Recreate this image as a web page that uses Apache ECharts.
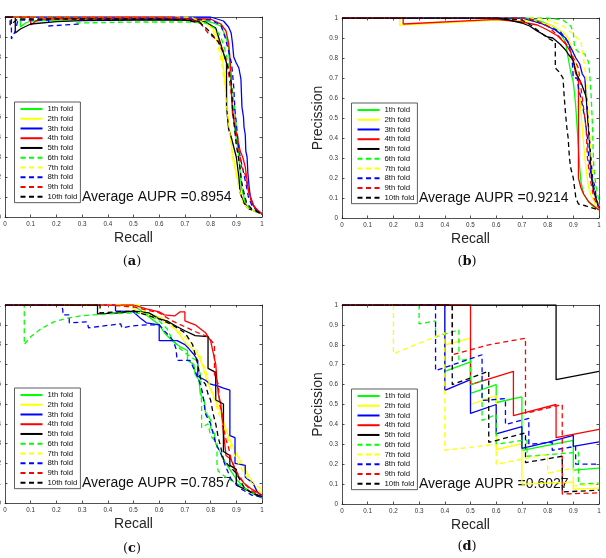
<!DOCTYPE html>
<html>
<head>
<meta charset="utf-8">
<script src="https://cdn.jsdelivr.net/npm/echarts@6/dist/echarts.min.js"></script>
<style>html,body{margin:0;padding:0;background:#fff}#c{width:606px;height:558px}</style>
</head>
<body>
<div id="c"></div>
<script>
// ---------- DATA ----------
const tickLabels = ['0','0.1','0.2','0.3','0.4','0.5','0.6','0.7','0.8','0.9','1'];
const foldNames = ['1th fold','2th fold','3th fold','4th fold','5th fold','6th fold','7th fold','8th fold','9th fold','10th fold'];
const auprValues = ['0.8954','0.9214','0.7857','0.6027'];
const panelLetters = ['a','b','c','d'];

// Panel (a)  [recall, precision]
const a1 = [[0,1],[0.06,1],[0.06,0.95],[0.08,0.97],[0.1,0.98],[0.2,0.985],[0.5,0.988],[0.75,0.985],[0.8,0.975],[0.84,0.955],[0.86,0.9],[0.87,0.85],[0.875,0.75],[0.882,0.6],[0.89,0.5],[0.895,0.43],[0.905,0.35],[0.91,0.3],[0.915,0.22],[0.92,0.15],[0.93,0.1],[0.94,0.05],[0.97,0.03],[1,0.015]];
const a2 = [[0,1],[0.7,1],[0.76,0.99],[0.8,0.96],[0.82,0.92],[0.835,0.87],[0.845,0.8],[0.855,0.7],[0.862,0.6],[0.868,0.5],[0.875,0.42],[0.882,0.35],[0.89,0.29],[0.9,0.22],[0.91,0.16],[0.92,0.1],[0.935,0.06],[0.96,0.04],[1,0.015]];
const a3 = [[0,1],[0.8,1],[0.85,0.98],[0.87,0.95],[0.88,0.92],[0.885,0.87],[0.89,0.86],[0.89,0.8],[0.9,0.77],[0.91,0.745],[0.915,0.74],[0.918,0.69],[0.92,0.62],[0.922,0.55],[0.928,0.5],[0.93,0.45],[0.935,0.41],[0.937,0.33],[0.942,0.3],[0.945,0.22],[0.95,0.15],[0.955,0.1],[0.965,0.06],[0.98,0.035],[1,0.015]];
const a4 = [[0,1],[0.1,1],[0.1,0.96],[0.12,0.98],[0.15,0.99],[0.5,0.995],[0.8,0.99],[0.84,0.965],[0.86,0.93],[0.87,0.87],[0.875,0.8],[0.88,0.7],[0.882,0.6],[0.885,0.52],[0.895,0.45],[0.905,0.4],[0.915,0.33],[0.925,0.3],[0.935,0.25],[0.94,0.2],[0.945,0.15],[0.955,0.1],[0.97,0.05],[1,0.015]];
const a5 = [[0,1],[0.04,1],[0.04,0.92],[0.06,0.94],[0.1,0.965],[0.2,0.977],[0.3,0.982],[0.5,0.985],[0.7,0.985],[0.78,0.975],[0.82,0.945],[0.85,0.82],[0.862,0.77],[0.862,0.55],[0.87,0.44],[0.875,0.42],[0.88,0.4],[0.89,0.35],[0.9,0.3],[0.905,0.25],[0.91,0.2],[0.915,0.12],[0.93,0.07],[0.95,0.04],[1,0.015]];
const a6 = [[0,1],[0.28,1],[0.28,0.97],[0.5,0.975],[0.72,0.975],[0.78,0.97],[0.82,0.94],[0.84,0.9],[0.86,0.82],[0.875,0.72],[0.882,0.65],[0.89,0.58],[0.895,0.52],[0.9,0.45],[0.905,0.38],[0.91,0.3],[0.915,0.24],[0.92,0.17],[0.93,0.1],[0.94,0.06],[0.97,0.03],[1,0.015]];
const a7 = [[0,1],[0.72,1],[0.76,0.98],[0.8,0.95],[0.82,0.9],[0.835,0.82],[0.845,0.75],[0.855,0.66],[0.862,0.56],[0.87,0.47],[0.878,0.38],[0.885,0.3],[0.895,0.24],[0.905,0.17],[0.915,0.12],[0.925,0.07],[0.95,0.04],[1,0.015]];
const a8 = [[0,1],[0.025,1],[0.025,0.89],[0.04,0.93],[0.05,0.985],[0.17,0.985],[0.17,0.955],[0.29,0.965],[0.29,0.985],[0.7,0.99],[0.8,0.985],[0.84,0.96],[0.856,0.9],[0.87,0.83],[0.882,0.765],[0.89,0.65],[0.895,0.53],[0.9,0.47],[0.908,0.36],[0.915,0.3],[0.927,0.23],[0.94,0.15],[0.947,0.1],[0.96,0.06],[0.98,0.03],[1,0.015]];
const a9 = [[0,1],[0.65,1],[0.72,0.985],[0.76,0.97],[0.79,0.92],[0.81,0.9],[0.83,0.88],[0.85,0.83],[0.862,0.78],[0.872,0.7],[0.882,0.6],[0.888,0.52],[0.895,0.46],[0.908,0.35],[0.915,0.3],[0.921,0.25],[0.934,0.215],[0.947,0.13],[0.96,0.07],[0.98,0.035],[1,0.015]];
const a10 = [[0,1],[0.02,1],[0.02,0.96],[0.035,0.975],[0.05,0.99],[0.6,0.99],[0.7,0.985],[0.76,0.97],[0.79,0.935],[0.83,0.875],[0.85,0.82],[0.87,0.74],[0.876,0.7],[0.882,0.66],[0.885,0.55],[0.89,0.48],[0.895,0.42],[0.9,0.36],[0.908,0.3],[0.914,0.25],[0.92,0.18],[0.93,0.12],[0.94,0.07],[0.96,0.04],[1,0.015]];

// Panel (b)
const b1 = [[0,1],[0.72,1],[0.78,0.98],[0.82,0.96],[0.85,0.92],[0.87,0.88],[0.88,0.8],[0.89,0.73],[0.9,0.68],[0.905,0.62],[0.91,0.55],[0.915,0.45],[0.92,0.35],[0.925,0.25],[0.93,0.18],[0.94,0.12],[0.955,0.09],[0.975,0.06],[1,0.04]];
const b2 = [[0,1],[0.225,1],[0.225,0.963],[0.25,0.966],[0.6,0.99],[0.75,0.985],[0.82,0.96],[0.86,0.93],[0.88,0.9],[0.9,0.83],[0.915,0.75],[0.925,0.62],[0.932,0.5],[0.938,0.4],[0.945,0.3],[0.952,0.22],[0.96,0.15],[0.97,0.11],[0.985,0.07],[1,0.05]];
const b3 = [[0,1],[0.7,1],[0.78,0.97],[0.83,0.94],[0.87,0.9],[0.895,0.84],[0.91,0.8],[0.925,0.77],[0.935,0.72],[0.945,0.7],[0.95,0.6],[0.955,0.52],[0.96,0.45],[0.965,0.35],[0.97,0.28],[0.975,0.2],[0.985,0.15],[0.99,0.09],[1,0.05]];
const b4 = [[0,1],[0.238,1],[0.238,0.97],[0.6,0.993],[0.7,0.98],[0.76,0.965],[0.8,0.94],[0.84,0.91],[0.87,0.87],[0.89,0.83],[0.9,0.78],[0.91,0.72],[0.92,0.7],[0.92,0.2],[0.93,0.15],[0.94,0.12],[0.96,0.08],[0.98,0.06],[1,0.04]];
const b5 = [[0,1],[0.6,1],[0.65,0.99],[0.7,0.975],[0.73,0.96],[0.757,0.937],[0.8,0.905],[0.82,0.9],[0.848,0.87],[0.87,0.84],[0.88,0.82],[0.9,0.787],[0.905,0.76],[0.913,0.72],[0.932,0.67],[0.952,0.6],[0.955,0.52],[0.958,0.47],[0.965,0.35],[0.97,0.22],[0.978,0.14],[0.99,0.09],[1,0.05]];
const b6 = [[0,1],[0.8,1],[0.86,0.99],[0.89,0.96],[0.9,0.93],[0.905,0.85],[0.92,0.83],[0.945,0.82],[0.95,0.8],[0.96,0.78],[0.965,0.7],[0.97,0.6],[0.975,0.45],[0.978,0.3],[0.982,0.22],[0.99,0.15],[1,0.08]];
const b7 = [[0,1],[0.76,1],[0.82,0.98],[0.86,0.96],[0.9,0.92],[0.93,0.88],[0.94,0.8],[0.95,0.7],[0.955,0.6],[0.96,0.5],[0.965,0.4],[0.97,0.3],[0.975,0.22],[0.985,0.15],[1,0.06]];
const b8 = [[0,1],[0.72,1],[0.8,0.96],[0.85,0.93],[0.88,0.88],[0.895,0.8],[0.9,0.7],[0.915,0.7],[0.92,0.65],[0.93,0.6],[0.945,0.5],[0.955,0.4],[0.96,0.3],[0.97,0.2],[0.98,0.15],[0.99,0.1],[1,0.05]];
const b9 = [[0,1],[0.7,1],[0.75,0.99],[0.8,0.96],[0.85,0.9],[0.88,0.86],[0.9,0.8],[0.92,0.75],[0.935,0.6],[0.945,0.5],[0.95,0.45],[0.955,0.3],[0.965,0.2],[0.98,0.1],[1,0.05]];
const b10 = [[0,1],[0.6,1],[0.7,0.99],[0.74,0.96],[0.78,0.92],[0.8,0.9],[0.83,0.88],[0.83,0.75],[0.845,0.73],[0.86,0.7],[0.865,0.6],[0.87,0.52],[0.875,0.45],[0.88,0.4],[0.885,0.3],[0.89,0.25],[0.9,0.2],[0.91,0.1],[0.92,0.07],[0.95,0.06],[1,0.04]];

// Panel (c)
const c1 = [[0,1],[0.5,1],[0.53,0.97],[0.56,0.94],[0.6,0.9],[0.62,0.86],[0.65,0.82],[0.68,0.79],[0.71,0.77],[0.71,0.72],[0.735,0.7],[0.74,0.65],[0.755,0.62],[0.76,0.55],[0.775,0.52],[0.78,0.46],[0.8,0.42],[0.8,0.38],[0.815,0.35],[0.82,0.3],[0.84,0.25],[0.85,0.22],[0.86,0.2],[0.88,0.16],[0.9,0.12],[0.93,0.08],[0.96,0.05],[1,0.025]];
const c2 = [[0,1],[0.52,1],[0.55,0.96],[0.6,0.94],[0.65,0.9],[0.68,0.85],[0.7,0.81],[0.72,0.79],[0.75,0.75],[0.77,0.69],[0.79,0.6],[0.82,0.52],[0.84,0.45],[0.855,0.39],[0.875,0.32],[0.9,0.25],[0.93,0.18],[0.96,0.11],[0.98,0.07],[1,0.05]];
const c3 = [[0,1],[0.43,1],[0.43,0.97],[0.5,0.965],[0.53,0.93],[0.55,0.91],[0.6,0.9],[0.6,0.82],[0.67,0.82],[0.7,0.8],[0.715,0.78],[0.735,0.75],[0.75,0.72],[0.75,0.64],[0.78,0.62],[0.8,0.6],[0.83,0.59],[0.85,0.58],[0.875,0.57],[0.875,0.34],[0.895,0.33],[0.895,0.2],[0.935,0.19],[0.935,0.13],[0.965,0.1],[0.98,0.06],[1,0.03]];
const c4 = [[0,1],[0.5,1],[0.55,0.98],[0.6,0.965],[0.62,0.95],[0.66,0.945],[0.68,0.965],[0.7,0.965],[0.7,0.92],[0.74,0.9],[0.76,0.88],[0.78,0.86],[0.8,0.82],[0.81,0.76],[0.82,0.7],[0.825,0.62],[0.83,0.55],[0.84,0.5],[0.845,0.42],[0.85,0.35],[0.855,0.3],[0.86,0.24],[0.88,0.22],[0.9,0.15],[0.93,0.1],[0.96,0.07],[1,0.04]];
const c5 = [[0,1],[0.36,1],[0.36,0.955],[0.45,0.96],[0.5,0.97],[0.56,0.96],[0.6,0.93],[0.63,0.92],[0.67,0.89],[0.7,0.87],[0.74,0.845],[0.79,0.84],[0.79,0.68],[0.82,0.66],[0.82,0.52],[0.85,0.5],[0.85,0.26],[0.875,0.24],[0.875,0.19],[0.9,0.17],[0.9,0.09],[0.95,0.06],[1,0.03]];
const c6 = [[0,1],[0.075,1],[0.075,0.8],[0.1,0.84],[0.14,0.88],[0.19,0.915],[0.24,0.933],[0.3,0.946],[0.4,0.955],[0.5,0.96],[0.55,0.955],[0.6,0.92],[0.63,0.88],[0.65,0.83],[0.68,0.78],[0.72,0.74],[0.745,0.72],[0.76,0.65],[0.765,0.5],[0.765,0.38],[0.79,0.4],[0.8,0.34],[0.825,0.3],[0.825,0.19],[0.83,0.16],[0.86,0.13],[0.9,0.1],[0.95,0.06],[1,0.025]];
const c7 = [[0,1],[0.45,1],[0.5,0.98],[0.55,0.95],[0.6,0.93],[0.65,0.89],[0.7,0.84],[0.73,0.8],[0.76,0.74],[0.78,0.67],[0.8,0.58],[0.82,0.5],[0.84,0.42],[0.86,0.35],[0.88,0.28],[0.9,0.22],[0.93,0.15],[0.96,0.1],[1,0.07]];
const c8 = [[0,1],[0.22,1],[0.225,0.975],[0.225,0.95],[0.25,0.95],[0.25,0.91],[0.32,0.915],[0.325,0.885],[0.45,0.905],[0.455,0.885],[0.5,0.895],[0.55,0.9],[0.6,0.9],[0.62,0.87],[0.655,0.82],[0.665,0.78],[0.67,0.72],[0.72,0.72],[0.745,0.65],[0.76,0.6],[0.77,0.55],[0.78,0.45],[0.8,0.4],[0.82,0.3],[0.84,0.25],[0.86,0.18],[0.88,0.12],[0.92,0.07],[0.96,0.04],[1,0.03]];
const c9 = [[0,1],[0.4,1],[0.5,0.99],[0.6,0.96],[0.65,0.92],[0.7,0.89],[0.75,0.86],[0.79,0.84],[0.815,0.8],[0.815,0.65],[0.83,0.6],[0.835,0.5],[0.845,0.45],[0.85,0.38],[0.86,0.32],[0.87,0.28],[0.88,0.22],[0.9,0.16],[0.93,0.1],[0.96,0.06],[1,0.04]];
const c10 = [[0,1],[0.37,1],[0.37,0.96],[0.5,0.97],[0.6,0.93],[0.65,0.9],[0.7,0.86],[0.73,0.8],[0.75,0.7],[0.76,0.63],[0.78,0.6],[0.79,0.55],[0.8,0.52],[0.81,0.45],[0.82,0.4],[0.83,0.33],[0.84,0.28],[0.85,0.22],[0.87,0.19],[0.9,0.15],[0.93,0.08],[0.96,0.05],[1,0.03]];

// Panel (d)
const d1 = [[0,1],[0.4,1],[0.4,0.667],[0.5,0.714],[0.5,0.556],[0.6,0.6],[0.6,0.51],[0.7,0.538],[0.7,0.27],[0.8,0.295],[0.9,0.32],[0.9,0.17],[1,0.18]];
const d2 = [[0,1],[0.4,1],[0.4,0.8],[0.5,0.833],[0.5,0.5],[0.6,0.545],[0.6,0.273],[0.7,0.304],[0.7,0.1],[0.8,0.105],[0.9,0.11],[0.9,0.075],[1,0.08]];
const d3 = [[0,1],[0.4,1],[0.4,0.571],[0.5,0.625],[0.5,0.455],[0.6,0.5],[0.6,0.353],[0.7,0.389],[0.7,0.28],[0.8,0.31],[0.9,0.345],[0.9,0.29],[1,0.3125]];
const d4 = [[0,1],[0.5,1],[0.5,0.6],[0.667,0.667],[0.667,0.444],[0.833,0.5],[0.833,0.333],[1,0.375]];
const d5 = [[0,1],[0.833,1],[0.833,0.625],[1,0.667]];
const d6 = [[0,1],[0.3,1],[0.3,0.905],[0.364,0.92],[0.364,0.84],[0.455,0.875],[0.455,0.72],[0.5,0.73],[0.5,0.6],[0.545,0.62],[0.545,0.42],[0.6,0.45],[0.6,0.3],[0.7,0.32],[0.72,0.32],[0.72,0.24],[0.92,0.26],[0.92,0.1],[1,0.105]];
const d7 = [[0,1],[0.2,1],[0.2,0.755],[0.4,0.86],[0.4,0.27],[0.6,0.3],[0.6,0.2],[0.8,0.25],[0.8,0.155],[0.9,0.18],[0.9,0.09],[1,0.1]];
const d8 = [[0,1],[0.364,1],[0.364,0.67],[0.545,0.75],[0.545,0.52],[0.636,0.53],[0.636,0.4],[0.727,0.43],[0.727,0.3],[0.818,0.31],[0.818,0.27],[0.909,0.29],[0.909,0.2],[1,0.2]];
const d9 = [[0,1],[0.429,1],[0.429,0.75],[0.571,0.8],[0.714,0.833],[0.714,0.455],[0.857,0.5],[0.857,0.05],[1,0.056]];
const d10 = [[0,1],[0.429,1],[0.429,0.6],[0.571,0.667],[0.571,0.31],[0.714,0.357],[0.714,0.208],[0.857,0.24],[0.857,0.06],[1,0.07]];

// ---------- BUILD ----------
const panelData = [
  [a1,a2,a3,a4,a5,a6,a7,a8,a9,a10],
  [b1,b2,b3,b4,b5,b6,b7,b8,b9,b10],
  [c1,c2,c3,c4,c5,c6,c7,c8,c9,c10],
  [d1,d2,d3,d4,d5,d6,d7,d8,d9,d10]
];
const foldColors = ['#00ff00','#ffff00','#0000ff','#ff0000','#000000','#00ff00','#ffff00','#0000ff','#ff0000','#000000'];
const grids = [
  {left:5, top:17, width:257, height:200},
  {left:342, top:18, width:257, height:200},
  {left:5, top:305, width:257, height:198},
  {left:342, top:305, width:257, height:199}
];
const captionPos = [[132,262],[467,262],[132,549],[467,547]];
const axisCol = '#262626';
const fmt = v => tickLabels[Math.round(v*10)];

const option = {
  animation:false,
  backgroundColor:'#fff',
  grid: grids.map(g => Object.assign({containLabel:false, outerBoundsMode:'none'}, g)),
  xAxis:[], yAxis:[], series:[], legend:[], graphic:[]
};

grids.forEach((g,i) => {
  const common = {gridIndex:i, type:'value', min:0, max:1, interval:0.1,
    splitLine:{show:false},
    axisLine:{show:true, onZero:false, lineStyle:{color:axisCol, width:0.8}},
    axisTick:{show:true, inside:true, length:2.5, lineStyle:{color:axisCol, width:0.8}}};
  option.xAxis.push(Object.assign({}, common, {position:'bottom',
    axisLabel:{show:true, formatter:fmt, fontSize:6.3, color:'#333', margin:4, fontFamily:'Liberation Sans'},
    name:'Recall', nameLocation:'middle', nameGap:14,
    nameTextStyle:{fontSize:14, color:axisCol, fontFamily:'Liberation Sans'}}));
  option.xAxis.push(Object.assign({}, common, {position:'top', axisLabel:{show:false}}));
  option.yAxis.push(Object.assign({}, common, {position:'left',
    axisLabel:{show:true, formatter:fmt, fontSize:6.3, color:'#333', margin:4, fontFamily:'Liberation Sans'},
    name:'Precission', nameLocation:'middle', nameGap:17, nameRotate:90,
    nameTextStyle:{fontSize:14, color:axisCol, fontFamily:'Liberation Sans'}}));
  option.yAxis.push(Object.assign({}, common, {position:'right', axisLabel:{show:false}}));

  panelData[i].forEach((curve,k) => {
    option.series.push({
      type:'line', name:foldNames[k], xAxisIndex:2*i, yAxisIndex:2*i,
      data:curve, symbol:'none', showSymbol:false, clip:true, smooth:false,
      lineStyle:{color:foldColors[k], width:1.3, type: k<5 ? 'solid' : [5,3.5]},
      itemStyle:{color:foldColors[k]}
    });
  });

  option.legend.push({
    orient:'vertical', left:g.left+9.5, top:g.top+g.height-115,
    data:foldNames, selectedMode:false,
    itemWidth:22, itemHeight:8, itemGap:1.74,
    padding:[3,3,2,5], backgroundColor:'#fff',
    borderColor:'#333', borderWidth:0.8,
    lineStyle:{width:2},
    itemStyle:{color:'rgba(0,0,0,0)', borderWidth:0, opacity:0},
    textStyle:{fontSize:7.8, lineHeight:8, color:'#111', fontFamily:'Liberation Sans'}
  });

  option.graphic.push({
    type:'text', left: g.left + 77, top: g.top + g.height - 27,
    style:{text:'Average AUPR =' + auprValues[i], fontSize:14, fontFamily:'Liberation Sans', fill:'#111'}
  });
  option.graphic.push({
    type:'text', x: captionPos[i][0], y: captionPos[i][1],
    style:{text:'{n|(}{b|' + panelLetters[i] + '}{n|)}', align:'center', verticalAlign:'middle',
      rich:{n:{fontSize:13, fontFamily:'DejaVu Serif', fill:'#111'},
            b:{fontSize:13, fontFamily:'DejaVu Serif', fontWeight:'bold', fill:'#111'}}}
  });
});

const chart = echarts.init(document.getElementById('c'), null, {renderer:'canvas'});
chart.setOption(option);
</script>
</body>
</html>
